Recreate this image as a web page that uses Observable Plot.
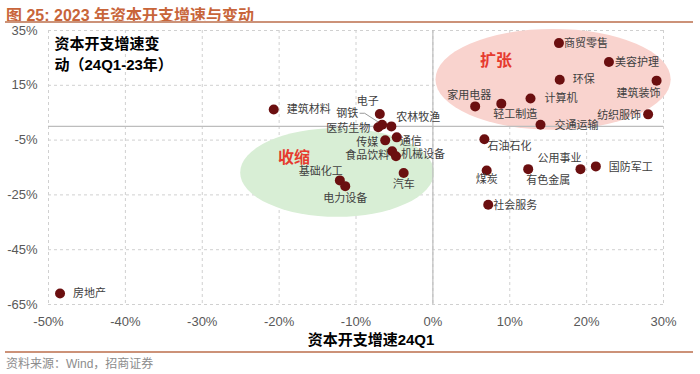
<!DOCTYPE html>
<html><head><meta charset="utf-8">
<script src="https://cdn.jsdelivr.net/npm/d3@7"></script>
<script src="https://cdn.jsdelivr.net/npm/@observablehq/plot@0.6"></script>
<style>
body{margin:0;background:#fff;}
#wrap{position:relative;width:700px;height:374px;overflow:hidden;}
#title{position:absolute;left:6px;top:2px;font:bold 16px "Liberation Sans","Noto Sans CJK SC",sans-serif;color:#c8653a;white-space:nowrap;}
.rule{position:absolute;left:5px;width:688px;height:2px;background:#cc9278;}
#chart{position:absolute;left:0;top:23px;}
#source{position:absolute;left:6px;top:354px;font:12px "Liberation Sans","Noto Sans CJK SC",sans-serif;color:#8c8c8c;white-space:nowrap;}
</style></head>
<body>
<div id="wrap">
  <div id="title">图 25:&nbsp;2023 年资本开支增速与变动</div>
  <div class="rule" style="top:21px"></div>
  <div id="chart"></div>
  <div class="rule" style="top:351px"></div>
  <div id="source">资料来源：Wind，招商证券</div>
</div>
<script>
const industries = ["房地产","建筑材料","电子","钢铁","医药生物","农林牧渔","传媒","通信","食品饮料","机械设备","汽车","基础化工","电力设备","商贸零售","美容护理","环保","建筑装饰","家用电器","轻工制造","计算机","交通运输","纺织服饰","石油石化","煤炭","有色金属","公用事业","国防军工","社会服务"];
const growth24Q1 = [-48.5,-20.7,-6.9,-6.6,-7.1,-5.4,-6.2,-4.7,-5.3,-4.8,-3.8,-12.1,-11.4,16.4,22.9,16.5,29.1,5.5,8.9,12.7,14.0,28.0,6.7,7.0,12.4,19.2,21.2,7.2];
const changeVs23 = [-61.0,6.2,4.5,0.6,-0.3,0.0,-5.1,-4.0,-9.1,-10.9,-17.0,-19.7,-21.8,30.4,23.5,17.0,16.7,7.3,8.3,10.2,0.6,4.4,-4.7,-16.1,-15.6,-15.6,-14.6,-28.6];
const xTicks = [-50,-40,-30,-20,-10,0,10,20,30];
const yTicks = [35,15,-5,-25,-45,-65];
const regionNames = ["扩张","收缩"];
const regionCx = [15.7,-12.4];
const regionCy = [17.0,-17.0];
const regionRx = [15.3,12.6];
const regionRy = [18.4,16.2];

// label placement (layout only): [textAnchor, dx, dy]
const labelLayout = {
 "房地产":["start",13,0], "建筑材料":["start",13,0], "电子":["middle",-12,-13],
 "钢铁":["end",-24,-11], "医药生物":["end",-8,1], "农林牧渔":["start",5,-9],
 "传媒":["end",-7,2], "通信":["start",3,4], "食品饮料":["end",-3,4],
 "机械设备":["start",5,-2], "汽车":["middle",0,11], "基础化工":["middle",-19,-9],
 "电力设备":["middle",0,12], "商贸零售":["start",5,0], "美容护理":["start",6,0],
 "环保":["start",13,0], "建筑装饰":["end",4,13], "家用电器":["middle",-6,-11],
 "轻工制造":["middle",14,11], "计算机":["start",14,0], "交通运输":["start",14,1],
 "纺织服饰":["end",-7,1], "石油石化":["start",3,7], "煤炭":["middle",0,9],
 "有色金属":["middle",20,11], "公用事业":["middle",-21,-11], "国防军工":["start",13,1],
 "社会服务":["start",5,1]
};
const regionColors = ["#f9d3ce","#d8eed5"];

const points = industries.map((name,i)=>({name, x:growth24Q1[i], y:changeVs23[i]}));
const pct = d => d + "%";
const cjk = "Liberation Sans, Noto Sans CJK SC, sans-serif";

function regionsMark(index, scales) {
  const {x, y} = scales;
  const g = d3.create("svg:g");
  regionNames.forEach((n,i)=>{
    const cx = x(regionCx[i]), cy = y(regionCy[i]);
    const rx = x(regionCx[i]+regionRx[i]) - cx;
    const ry = cy - y(regionCy[i]+regionRy[i]);
    g.append("ellipse").attr("cx",cx).attr("cy",cy).attr("rx",rx).attr("ry",ry).attr("fill",regionColors[i]);
  });
  const offs = [[-57,-20],[-43,-16]];
  regionNames.forEach((n,i)=>{
    g.append("text").attr("x", x(regionCx[i]) + offs[i][0]).attr("y", y(regionCy[i]) + offs[i][1])
      .attr("text-anchor","middle").attr("dominant-baseline","central")
      .attr("font-family","Noto Sans CJK SC").attr("font-weight","bold").attr("font-size",16)
      .attr("fill","#e63a2e").text(n);
  });
  return g.node();
}

function leaderMark(index, scales) {
  const i = industries.indexOf("钢铁");
  const px = scales.x(growth24Q1[i]), py = scales.y(changeVs23[i]);
  const g = d3.create("svg:g");
  g.append("polyline").attr("points", `${px-22},${py-11} ${px-17},${py-11} ${px-3},${py-2}`)
    .attr("fill","none").attr("stroke","#808080").attr("stroke-width",0.8);
  return g.node();
}

const labelMarks = points.map(p => {
  const [anchor, dx, dy] = labelLayout[p.name];
  return Plot.text([p], {x:"x", y:"y", text:"name", textAnchor:anchor, dx, dy,
    fontSize:11, fill:"#404040", fontFamily:"Noto Sans CJK SC"});
});

const chart = Plot.plot({
  width:700, height:328,
  marginTop:7, marginBottom:47, marginLeft:48, marginRight:37,
  style:{fontFamily:"Liberation Sans, Arial, sans-serif", fontSize:"13px", color:"#595959", background:"transparent", overflow:"visible"},
  x:{domain:[-50,30], ticks:xTicks, tickFormat:pct, tickSize:0, tickPadding:12, label:null},
  y:{domain:[-65,35], ticks:yTicks, tickFormat:pct, tickSize:0, tickPadding:11, label:null},
  marks:[
    Plot.gridX(xTicks, {stroke:"#d0d0d0", strokeOpacity:1, strokeDasharray:"3,3"}),
    Plot.gridY(yTicks, {stroke:"#d0d0d0", strokeOpacity:1, strokeDasharray:"3,3"}),
    regionsMark,
    Plot.ruleY([0], {stroke:"#bdbdbd", strokeWidth:1.2}),
    Plot.ruleX([0], {stroke:"#bdbdbd", strokeWidth:1.2}),
    leaderMark,
    Plot.dot(points, {x:"x", y:"y", r:5, fill:"#6b0f10", stroke:"none"}),
    ...labelMarks,
    Plot.text(["资本开支增速变\n动（24Q1-23年）"], {frameAnchor:"top-left", dx:6, dy:4, lineAnchor:"top", textAnchor:"start", lineHeight:1.4, fontSize:15, fontWeight:"bold", fill:"#000", fontFamily:cjk}),
    Plot.text(["资本开支增速24Q1"], {frameAnchor:"bottom", dx:15, dy:36, lineAnchor:"middle", fontSize:15, fontWeight:"bold", fill:"#000", fontFamily:cjk})
  ]
});
document.getElementById("chart").appendChild(chart);
</script>
</body></html>
